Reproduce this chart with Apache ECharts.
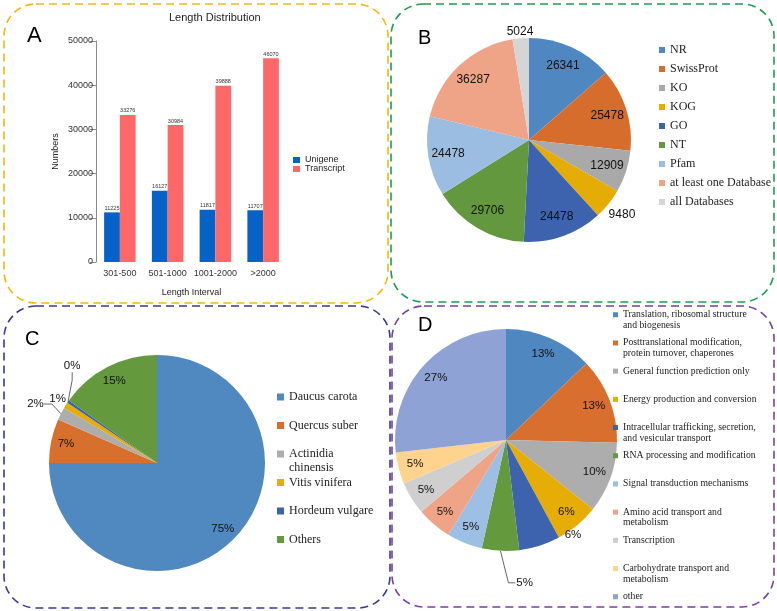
<!DOCTYPE html>
<html><head><meta charset="utf-8">
<script src="https://cdn.jsdelivr.net/npm/echarts@6/dist/echarts.min.js"></script>
<style>html,body{margin:0;padding:0;background:#fff}#c{width:777px;height:611px}</style>
</head><body><div id="c"></div>
<script>
// ---- Panel A: length distribution ----
const lengthCategories = ['301-500', '501-1000', '1001-2000', '>2000'];
const unigeneCounts = [11225, 16127, 11817, 11707];
const transcriptCounts = [33276, 30984, 39888, 46070];
const countTicks = [0, 10000, 20000, 30000, 40000, 50000];

// ---- Panel B: database annotation ----
const dbNames = ['NR', 'SwissProt', 'KO', 'KOG', 'GO', 'NT', 'Pfam', 'at least one Database', 'all Databases'];
const dbCounts = [26341, 25478, 12909, 9480, 24478, 29706, 24478, 36287, 5024];

// ---- Panel C: species distribution (%) ----
const speciesNames = ['Daucus carota', 'Quercus suber', 'Actinidia\nchinensis', 'Vitis vinifera', 'Hordeum vulgare', 'Others'];
const speciesShares = [75.0, 6.6, 1.9, 0.9, 0.4, 15.2];

// ---- Panel D: KOG classes (%) ----
const kogNames = [
  'Translation, ribosomal structure\nand biogenesis',
  'Posttranslational modification,\nprotein turnover, chaperones',
  'General function prediction only',
  'Energy production and conversion',
  'Intracellular trafficking, secretion,\nand vesicular transport',
  'RNA processing and modification',
  'Signal transduction mechanisms',
  'Amino acid transport and\nmetabolism',
  'Transcription',
  'Carbohydrate transport and\nmetabolism',
  'other'
];
const kogShares = [12.9, 12.5, 10.3, 6.4, 6.0, 5.4, 5.2, 5.1, 4.8, 4.6, 26.8];

// ---- styling ----
const dbColors = ['#4f87c1', '#d66d2d', '#a9a9a9', '#e4ac04', '#3e63ae', '#63983f', '#9cbde2', '#f0a487', '#d5d5d5'];
const speciesColors = ['#5088c0', '#d8702d', '#adadad', '#e5ad05', '#3d62ae', '#64993e'];
const kogColors = ['#4f88c0', '#d96f2e', '#adadad', '#e5ad05', '#3d62ae', '#64993e', '#9dbfe3', '#f0a487', '#cfcfcf', '#fdd38e', '#8fa2d5'];

const sansFont = 'Liberation Sans';
const serifFont = 'Liberation Serif';

// small nudges [dx, dy, bendDx] of outside pie labels relative to where ECharts puts them
const nudgeB = { 3: [-8, 8], 8: [18, -3] };
const nudgeC = { 2: [3, -6], 3: [20, -2], 4: [32, -31] };
const nudgeD = { 4: [3, -40], 5: [47, 2, 8] };

function pct(p) { return Math.round(p.percent) + '%'; }

function nudger(map) {
  return function (params) {
    const s = map[params.dataIndex];
    if (!s) return {};
    const r = params.labelRect;
    const cx = r.x + r.width / 2 + s[0];
    const cy = r.y + r.height / 2 + s[1];
    const out = { x: cx, y: cy, align: 'center', verticalAlign: 'middle' };
    if (s[2] != null && params.labelLinePoints) {
      const p = params.labelLinePoints;
      out.labelLinePoints = [p[0], [p[0][0] + s[2], p[1][1] + s[1]], [cx - r.width / 2 - 1, cy]];
    }
    return out;
  };
}

function buildPieData(names, values, outside, lines) {
  return names.map(function (n, i) {
    const item = { name: n, value: values[i] };
    if (outside.indexOf(i) >= 0) {
      item.label = { position: 'outside' };
      item.labelLine = { show: lines.indexOf(i) >= 0 };
    }
    return item;
  });
}

function mainPie(names, values, colors, center, r) {
  return {
    type: 'pie', center: center, radius: [0, r], startAngle: 90, clockwise: true,
    data: names.map(function (n, i) { return { name: n, value: values[i] }; }),
    color: colors,
    label: { show: false }, labelLine: { show: false },
    itemStyle: { borderWidth: 0 },
    emphasis: { disabled: true }, silent: true
  };
}

function labelPie(names, values, center, r0, r, fmt, fontSize, outside, lines, len, len2, nudges) {
  return {
    type: 'pie', center: center, radius: [r0, r], startAngle: 90, clockwise: true,
    data: buildPieData(names, values, outside, lines),
    itemStyle: { color: 'rgba(0,0,0,0)', borderWidth: 0 },
    avoidLabelOverlap: false, legendHoverLink: false,
    label: { show: true, position: 'inside', formatter: fmt, color: '#111', fontSize: fontSize, fontFamily: sansFont },
    labelLine: { show: false, length: len, length2: len2, lineStyle: { color: '#666', width: 1 } },
    labelLayout: nudger(nudges),
    emphasis: { disabled: true }, silent: true
  };
}

// one legend block per entry so that two-line entries keep the row pitch;
// a leading empty line keeps the icon beside the first text line
function stackedLegends(names, left, firstTop, pitch, iconSize, fontSize, lineHeight) {
  return names.map(function (n, i) {
    const twoLine = n.indexOf('\n') >= 0;
    return {
      orient: 'vertical', left: left, top: firstTop + i * pitch - (twoLine ? lineHeight : 0), padding: 0,
      itemWidth: iconSize, itemHeight: iconSize, icon: 'rect',
      data: [n],
      formatter: function (name) { return twoLine ? '\n' + name : name; },
      textStyle: { fontSize: fontSize, lineHeight: lineHeight, color: '#222', fontFamily: serifFont }
    };
  });
}

const chart = echarts.init(document.getElementById('c'), null, { renderer: 'canvas' });

const legends = [
  { orient: 'vertical', left: 293, top: 155.5, padding: 0, itemWidth: 7, itemHeight: 6, itemGap: 0, icon: 'rect',
    data: ['Unigene', 'Transcript'],
    textStyle: { fontSize: 9, lineHeight: 9, color: '#222', fontFamily: sansFont } },
  { orient: 'vertical', left: 659, top: 43, padding: 0, itemWidth: 6, itemHeight: 6, itemGap: 5, icon: 'rect',
    data: dbNames,
    textStyle: { fontSize: 12, lineHeight: 14, color: '#222', fontFamily: serifFont } }
].concat(
  stackedLegends(speciesNames, 277, 390, 28.5, 7, 12, 14),
  stackedLegends(kogNames, 613, 309.5, 28.2, 5, 9.7, 10.5)
);

const option = {
  backgroundColor: '#ffffff',
  animation: false,
  title: [
    { text: 'Length Distribution', left: 169, top: 12, padding: 0, textStyle: { fontSize: 11, fontWeight: 'normal', color: '#222', fontFamily: sansFont } },
    { text: 'A', left: 27, top: 25, padding: 0, textStyle: { fontSize: 22, fontWeight: 'normal', color: '#000', fontFamily: sansFont } },
    { text: 'B', left: 418, top: 28, padding: 0, textStyle: { fontSize: 20, fontWeight: 'normal', color: '#000', fontFamily: sansFont } },
    { text: 'C', left: 25, top: 329, padding: 0, textStyle: { fontSize: 20, fontWeight: 'normal', color: '#000', fontFamily: sansFont } },
    { text: 'D', left: 418, top: 315, padding: 0, textStyle: { fontSize: 20, fontWeight: 'normal', color: '#000', fontFamily: sansFont } }
  ],
  graphic: [
    { type: 'rect', z: -1, shape: { x: 4, y: 4, width: 384, height: 299, r: 32 }, style: { fill: 'none', stroke: '#f2b80e', lineWidth: 1.6, lineDash: [8, 5] } },
    { type: 'rect', z: -1, shape: { x: 391, y: 4, width: 383, height: 298, r: 32 }, style: { fill: 'none', stroke: '#1f9d4f', lineWidth: 1.6, lineDash: [8, 5] } },
    { type: 'rect', z: -1, shape: { x: 4, y: 306, width: 386, height: 302, r: 32 }, style: { fill: 'none', stroke: '#3a3a92', lineWidth: 1.6, lineDash: [8, 5] } },
    { type: 'rect', z: -1, shape: { x: 392, y: 306, width: 382, height: 301, r: 32 }, style: { fill: 'none', stroke: '#7a3ea3', lineWidth: 1.6, lineDash: [8, 5] } }
  ],
  legend: legends,
  grid: { left: 96, top: 41, width: 191, height: 221 },
  xAxis: {
    type: 'category', data: lengthCategories,
    axisLine: { show: false }, axisTick: { show: false },
    axisLabel: { interval: 0, fontSize: 9, color: '#333', margin: 7, fontFamily: sansFont },
    name: 'Length Interval', nameLocation: 'middle', nameGap: 26,
    nameTextStyle: { fontSize: 9, color: '#222', fontFamily: sansFont }
  },
  yAxis: {
    type: 'value', min: 0, max: 50000, interval: 10000,
    axisLine: { show: true, lineStyle: { color: '#8a8a8a' } },
    axisTick: { show: true, length: 6, lineStyle: { color: '#8a8a8a' } },
    axisLabel: { fontSize: 9, color: '#333', margin: 3, fontFamily: sansFont,
      formatter: function (v) { return countTicks.indexOf(v) >= 0 ? String(v) : ''; } },
    splitLine: { show: false },
    name: 'Numbers', nameLocation: 'middle', nameGap: 36,
    nameTextStyle: { fontSize: 9, color: '#222', fontFamily: sansFont }
  },
  series: [
    { type: 'bar', name: 'Unigene', data: unigeneCounts, barGap: '0%', barCategoryGap: '34%',
      itemStyle: { color: '#0762c8' },
      label: { show: true, position: 'top', distance: 1, fontSize: 5.5, color: '#333', fontFamily: sansFont } },
    { type: 'bar', name: 'Transcript', data: transcriptCounts, barGap: '0%', barCategoryGap: '34%',
      itemStyle: { color: '#ff6868' },
      label: { show: true, position: 'top', distance: 1, fontSize: 5.5, color: '#333', fontFamily: sansFont } },

    mainPie(dbNames, dbCounts, dbColors, [529, 140], 102),
    mainPie(speciesNames, speciesShares, speciesColors, [157, 463], 108),
    mainPie(kogNames, kogShares, kogColors, [506, 440], 111),

    labelPie(dbNames, dbCounts, [529, 140], 56, 102, '{c}', 12, [3, 8], [], 4, 0, nudgeB),
    labelPie(speciesNames, speciesShares, [157, 463], 72, 108, pct, 11.5, [2, 3, 4], [2, 4], 8, 8, nudgeC),
    labelPie(kogNames, kogShares, [506, 440], 71, 111, pct, 11.5, [4, 5], [5], 30, 8, nudgeD)
  ]
};
chart.setOption(option);
</script>
</body></html>
